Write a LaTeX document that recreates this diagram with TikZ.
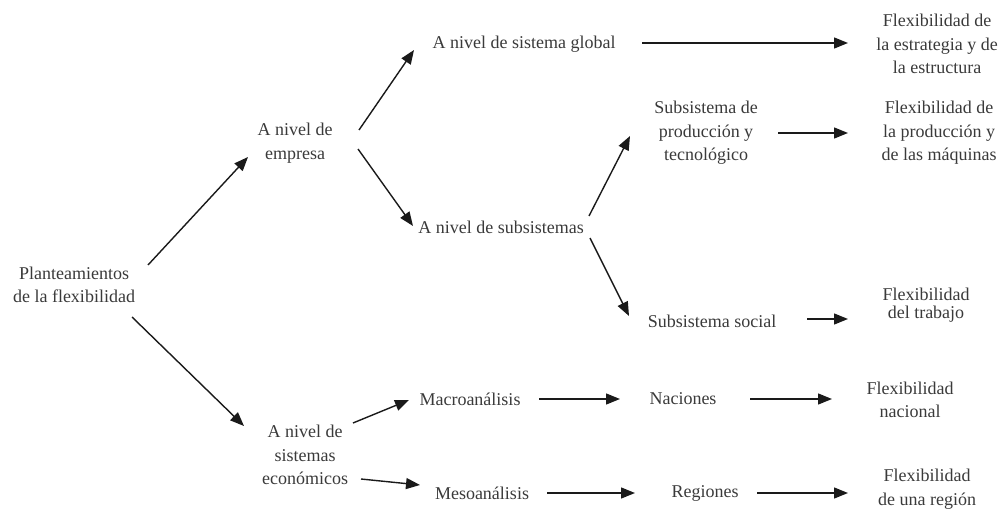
\documentclass[tikz,border=0pt]{standalone}
\usepackage{fontspec}
\setmainfont{Liberation Serif}
\usetikzlibrary{arrows.meta}
\definecolor{txt}{HTML}{3A3A3A}
\definecolor{ln}{HTML}{1A1A1A}
\begin{document}
\begin{tikzpicture}[x=1pt,y=-1pt,
  lbl/.style={inner sep=0pt,align=center,text=txt,font=\fontsize{18}{23.5}\selectfont},
  tight/.style={font=\fontsize{18}{18}\selectfont},
  arr/.style={draw=ln,line width=1.4pt,-{Triangle[length=14pt,width=11pt]}}]
\useasboundingbox (0,0) rectangle (998,510);
\node[lbl] (plant) at (74,285) {Planteamientos\\de la flexibilidad};
\node[lbl] (emp) at (295,143) {A nivel de\\empresa};
\node[lbl] (glob) at (524,44) {A nivel de sistema global};
\node[lbl] (subs) at (501,227) {A nivel de subsistemas};
\node[lbl] (prod) at (706,133) {Subsistema de\\producción y\\tecnológico};
\node[lbl] (flex1) at (937,44) {Flexibilidad de\\la estrategia y de\\la estructura};
\node[lbl] (flex2) at (939,133) {Flexibilidad de\\la producción y\\de las máquinas};
\node[lbl] (social) at (712,321) {Subsistema social};
\node[lbl,tight] (flex3) at (926,305) {Flexibilidad\\del trabajo};
\node[lbl] (econ) at (305,455) {A nivel de\\sistemas\\económicos};
\node[lbl] (macro) at (470,399) {Macroanálisis};
\node[lbl] (nac) at (683,399) {Naciones};
\node[lbl] (flexn) at (910,400) {Flexibilidad\\nacional};
\node[lbl] (meso) at (482,493) {Mesoanálisis};
\node[lbl] (reg) at (705,493) {Regiones};
\node[lbl] (flexr) at (927,489) {Flexibilidad\\de una región};

\draw[arr] ([shift={(74,-20)}]plant.center) -- ([shift={(-47,14)}]emp.center);
\draw[arr] ([shift={(58,32)}]plant.center) -- ([shift={(-61,-29)}]econ.center);
\draw[arr] ([shift={(64,-13)}]emp.center) -- ([shift={(-110,6)}]glob.center);
\draw[arr] ([shift={(63,6)}]emp.center) -- ([shift={(-88,-1)}]subs.center);
\draw[arr] ([shift={(118,-1)}]glob.center) -- ([shift={(-89,-1)}]flex1.center);
\draw[arr] ([shift={(88,-11)}]subs.center) -- ([shift={(-76,3)}]prod.center);
\draw[arr] ([shift={(89,11)}]subs.center) -- ([shift={(-83,-5)}]social.center);
\draw[arr] ([shift={(72,0)}]prod.center) -- ([shift={(-91,0)}]flex2.center);
\draw[arr] ([shift={(95,-2)}]social.center) -- ([shift={(-78,14)}]flex3.center);
\draw[arr] ([shift={(48,-32)}]econ.center) -- ([shift={(-61,1)}]macro.center);
\draw[arr] ([shift={(56,24)}]econ.center) -- ([shift={(-62,-8)}]meso.center);
\draw[arr] ([shift={(69,0)}]macro.center) -- ([shift={(-63,0)}]nac.center);
\draw[arr] ([shift={(67,0)}]nac.center) -- ([shift={(-78,-1)}]flexn.center);
\draw[arr] ([shift={(65,0)}]meso.center) -- ([shift={(-70,0)}]reg.center);
\draw[arr] ([shift={(52,0)}]reg.center) -- ([shift={(-79,4)}]flexr.center);
\end{tikzpicture}
\end{document}
